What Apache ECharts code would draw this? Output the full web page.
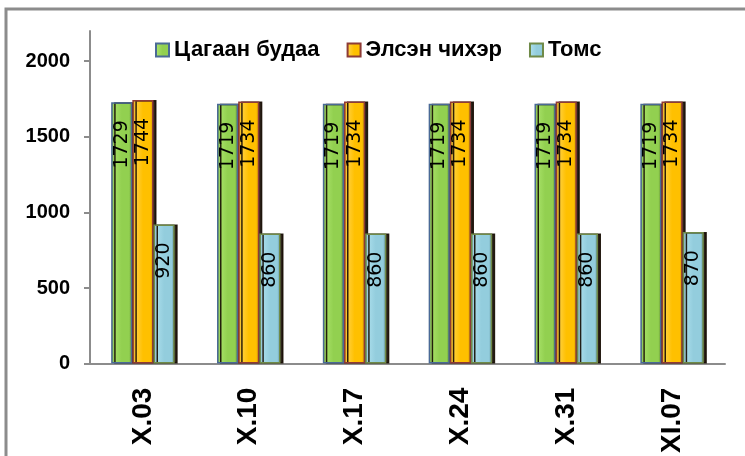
<!DOCTYPE html>
<html><head><meta charset="utf-8">
<script src="https://cdn.jsdelivr.net/npm/echarts@6/dist/echarts.min.js"></script>
<style>html,body{margin:0;padding:0;background:#fff}#c{width:745px;height:456px}</style>
</head><body><div id="c"></div>
<script>
const categories = ['X.03', 'X.10', 'X.17', 'X.24', 'X.31', 'XI.07'];
const seriesNames = ['Цагаан будаа', 'Элсэн чихэр', 'Томс'];
const rice = [1729, 1719, 1719, 1719, 1719, 1719];
const sugar = [1744, 1734, 1734, 1734, 1734, 1734];
const flour = [920, 860, 860, 860, 860, 870];
const yTicks = [0, 500, 1000, 1500, 2000];

function grad(edge, mid, light, dark) {
  return new echarts.graphic.LinearGradient(0, 0, 1, 0, [
    {offset: 0, color: edge}, {offset: 0.15, color: light},
    {offset: 0.5, color: mid}, {offset: 0.85, color: mid}, {offset: 1, color: dark}
  ]);
}
const styles = [
  {color: grad('#6b9c3a', '#92d050', '#a6e066', '#5f8a30'), borderColor: '#4a6a96'},
  {color: grad('#d99a00', '#ffc000', '#ffd040', '#c78f00'), borderColor: '#8e3b36'},
  {color: grad('#6fa5b5', '#93cddd', '#a8dcea', '#5f8f9c'), borderColor: '#6f8a48'}
];
const dataSets = [rice, sugar, flour];

const chart = echarts.init(document.getElementById('c'));
chart.setOption({
  animation: false,
  graphic: [{type: 'rect', shape: {x: 6, y: 9, width: 760, height: 470}, style: {fill: 'none', stroke: '#8c8c8c', lineWidth: 3}, z: 100}],
  legend: {
    left: 150, top: 34, itemGap: 27, itemWidth: 13, itemHeight: 13, icon: 'rect',
    textStyle: {fontFamily: 'Liberation Sans', fontWeight: 'bold', fontSize: 22, color: '#000'},
    data: seriesNames
  },
  grid: {left: 90, right: 20, top: 31, bottom: 89, containLabel: false},
  xAxis: {
    type: 'category', data: categories,
    axisLine: {lineStyle: {color: '#8c8c8c', width: 2}},
    axisTick: {length: 6, lineStyle: {color: '#8c8c8c', width: 2}},
    axisLabel: {rotate: 90, margin: 24, fontFamily: 'Liberation Sans', fontWeight: 'bold', fontSize: 28, color: '#000'}
  },
  yAxis: {
    type: 'value', min: 0, max: 2200, interval: 500,
    splitLine: {show: false},
    axisLine: {show: true, lineStyle: {color: '#8c8c8c', width: 2}},
    axisTick: {show: true, length: 6, lineStyle: {color: '#8c8c8c', width: 2}},
    axisLabel: {showMaxLabel: false, margin: 20, fontFamily: 'Liberation Sans', fontWeight: 'bold', fontSize: 20, color: '#000',
      formatter: v => yTicks.indexOf(v) >= 0 ? String(v) : ''}
  },
  series: dataSets.map((d, i) => ({
    name: seriesNames[i], type: 'bar', data: d,
    barGap: '0%', barCategoryGap: '40%',
    itemStyle: {color: styles[i].color, borderColor: styles[i].borderColor, borderWidth: 1.5,
      shadowColor: 'rgba(20,10,0,0.9)', shadowOffsetX: 3, shadowOffsetY: 0, shadowBlur: 0},
    label: {show: true, position: 'insideTop', distance: 18, rotate: 90, align: 'right', verticalAlign: 'middle',
      fontFamily: 'DejaVu Sans', fontSize: 19, color: '#000'}
  }))
});
</script></body></html>
